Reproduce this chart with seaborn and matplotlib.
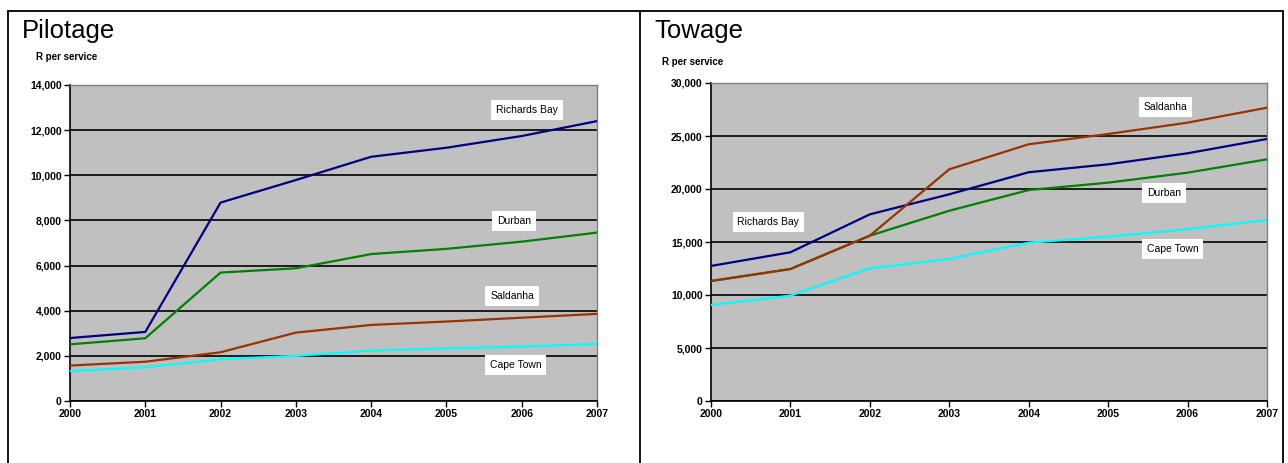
import matplotlib
matplotlib.use("Agg")
import matplotlib.pyplot as plt
from matplotlib.lines import Line2D
from matplotlib.ticker import FuncFormatter
import seaborn as sns
import pandas as pd

# Tariff data, rand per service
years = [2000, 2001, 2002, 2003, 2004, 2005, 2006, 2007]
ports = ["Richards Bay", "Durban", "Saldanha", "Cape Town"]

pilot_richards_bay = [2790, 3060, 8790, 9790, 10820, 11220, 11740, 12400]
pilot_durban = [2510, 2780, 5690, 5880, 6510, 6740, 7060, 7460]
pilot_saldanha = [1570, 1740, 2160, 3030, 3370, 3520, 3690, 3860]
pilot_cape_town = [1330, 1490, 1850, 2000, 2230, 2330, 2410, 2530]

tow_richards_bay = [12740, 14030, 17610, 19500, 21580, 22330, 23370, 24720]
tow_durban = [11320, 12450, 15600, 17950, 19900, 20600, 21540, 22800]
tow_saldanha = [11320, 12450, 15600, 21860, 24220, 25190, 26260, 27670]
tow_cape_town = [9060, 9940, 12520, 13400, 14940, 15500, 16200, 17080]

port_colors = {
    "Richards Bay": "#000080",
    "Durban": "#008000",
    "Saldanha": "#993300",
    "Cape Town": "#00FFFF",
}


def to_long(series):
    rows = []
    for port, vals in zip(ports, series):
        for yr, v in zip(years, vals):
            rows.append({"Year": yr, "Port": port, "Value": v})
    return pd.DataFrame(rows)


pilot_df = to_long([pilot_richards_bay, pilot_durban, pilot_saldanha, pilot_cape_town])
tow_df = to_long([tow_richards_bay, tow_durban, tow_saldanha, tow_cape_town])

sns.set_style("white")
plt.rcParams["font.family"] = ["Liberation Sans", "DejaVu Sans"]
plt.rcParams["text.color"] = "black"
plt.rcParams["xtick.color"] = "black"
plt.rcParams["ytick.color"] = "black"
plt.rcParams["axes.labelcolor"] = "black"

fig = plt.figure(figsize=(12.88, 4.63), dpi=100)

panels = [
    {
        "df": pilot_df, "title": "Pilotage", "ymax": 14000, "ystep": 2000,
        "rect": [70 / 1288, 62 / 463, 527 / 1288, 316 / 463],
        "title_xy": (22 / 1288, 1 - 38 / 463), "unit_xy": (36 / 1288, 1 - 60 / 463),
        "labels": [("Richards Bay", 2005.66, 12890), ("Durban", 2005.67, 7975),
                   ("Saldanha", 2005.58, 4650), ("Cape Town", 2005.58, 1595)],
    },
    {
        "df": tow_df, "title": "Towage", "ymax": 30000, "ystep": 5000,
        "rect": [711 / 1288, 62 / 463, 556 / 1288, 318 / 463],
        "title_xy": (654 / 1288, 1 - 38 / 463), "unit_xy": (662 / 1288, 1 - 65 / 463),
        "labels": [("Saldanha", 2005.45, 27740), ("Durban", 2005.49, 19620),
                   ("Cape Town", 2005.49, 14340), ("Richards Bay", 2000.33, 16890)],
    },
]

for p in panels:
    ax = fig.add_axes(p["rect"])
    ax.set_facecolor("#C0C0C0")
    ax.set_axisbelow(True)
    ax.yaxis.grid(True, color="black", linewidth=1.2)
    sns.lineplot(data=p["df"], x="Year", y="Value", hue="Port", hue_order=ports,
                 palette=port_colors, linewidth=1.6, legend=False, ax=ax,
                 zorder=3)
    ax.set_xlim(2000, 2007)
    ax.set_ylim(0, p["ymax"])
    ax.set_xticks(years)
    ax.set_yticks(range(0, p["ymax"] + 1, p["ystep"]))
    ax.yaxis.set_major_formatter(FuncFormatter(lambda v, _: f"{int(v):,}"))
    ax.set_xlabel("")
    ax.set_ylabel("")
    ax.tick_params(axis="both", which="both", length=4, width=1, color="black",
                   labelcolor="black", labelsize=7.5, pad=2, direction="out",
                   left=True, bottom=True)
    for lab in ax.get_xticklabels() + ax.get_yticklabels():
        lab.set_fontweight("bold")
    for side in ["left", "bottom"]:
        ax.spines[side].set_color("black")
        ax.spines[side].set_linewidth(1.2)
    for side in ["top", "right"]:
        ax.spines[side].set_color("#808080")
        ax.spines[side].set_linewidth(1.0)
    for text, xv, yv in p["labels"]:
        ax.text(xv, yv, text, fontsize=7.5, va="center", ha="left", zorder=5,
                color="black",
                bbox=dict(boxstyle="square,pad=0.45", facecolor="white",
                          edgecolor="none"))
    fig.text(*p["title_xy"], p["title"], fontsize=18.5, ha="left",
             va="baseline", color="black")
    fig.text(*p["unit_xy"], "R per service", fontsize=7, fontweight="bold",
             ha="left", va="baseline", color="black")

# Panel frame
frame_kw = dict(color="black", linewidth=1.3, transform=fig.transFigure)
top = 1 - 11 / 463
fig.add_artist(Line2D([8 / 1288, 1283 / 1288], [top, top], **frame_kw))
for xp in (8, 639.5, 1283):
    fig.add_artist(Line2D([xp / 1288, xp / 1288], [0, top], **frame_kw))

fig.savefig("out.png", dpi=100)
